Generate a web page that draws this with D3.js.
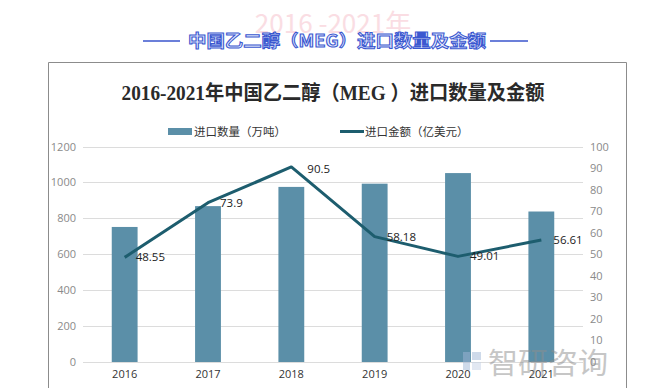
<!DOCTYPE html>
<html><head><meta charset="utf-8">
<script src="https://cdn.jsdelivr.net/npm/d3@7/dist/d3.min.js"></script>
<style>body{margin:0;background:#fff}svg{display:block}</style>
</head><body>
<svg id="c" width="671" height="388"></svg>
<script>
const years = ["2016","2017","2018","2019","2020","2021"];
const volume = [752, 868, 975, 993, 1052, 838];
const amount = [48.55, 73.9, 90.5, 58.18, 49.01, 56.61];
const leftTicks = [0,200,400,600,800,1000,1200];
const rightTicks = [0,10,20,30,40,50,60,70,80,90,100];
const header = "中国乙二醇（MEG）进口数量及金额";
const title = "2016-2021年中国乙二醇（MEG ）进口数量及金额";
const legendNames = ["进口数量（万吨）","进口金额（亿美元）"];

const svg = d3.select("#c");
const cjk = "'Noto Sans CJK SC','Noto Sans',sans-serif";
const num = "'Open Sans','Noto Sans',sans-serif";
const barColor = "#5b8fa8", lineColor = "#1d5d6e";

// faded background text
svg.append("text").attr("x",333).attr("y",33).attr("text-anchor","middle")
  .attr("font-family",cjk).attr("font-size",26).attr("fill","#fadde3").text("2016 -2021年");

// header
svg.append("line").attr("x1",143).attr("x2",180).attr("y1",41).attr("y2",41).attr("stroke","#3a55cc").attr("stroke-width",1.3);
svg.append("line").attr("x1",490).attr("x2",528).attr("y1",41).attr("y2",41).attr("stroke","#3a55cc").attr("stroke-width",1.3);
svg.append("text").attr("x",337).attr("y",47).attr("text-anchor","middle")
  .attr("font-family",cjk).attr("font-weight","bold").attr("font-size",16.5)
  .attr("fill","#e4eafc").attr("stroke","#3b58d0").attr("stroke-width",1)
  .attr("textLength",298).attr("lengthAdjust","spacingAndGlyphs").text(header);

// frame
svg.append("path").attr("d","M48.5,388 V62.5 H626.5 V388").attr("fill","none").attr("stroke","#8c8c8c").attr("stroke-width",1);

// title
svg.append("text").attr("x",333).attr("y",100).attr("text-anchor","middle")
  .attr("font-family","'Liberation Serif','DejaVu Serif','Noto Sans CJK SC',serif")
  .attr("font-size",20).attr("font-weight","bold").attr("fill","#2a2a2a")
  .attr("textLength",423).attr("lengthAdjust","spacingAndGlyphs").text(title);

const x = d3.scaleBand().domain(years).range([83,583]).paddingInner(0.69).paddingOuter(0.345);
const yL = d3.scaleLinear().domain([0,1200]).range([362,146.5]);
const yR = d3.scaleLinear().domain([0,100]).range([362,146.5]);

// grid
svg.append("g").selectAll("line").data(leftTicks).join("line")
  .attr("x1",83).attr("x2",583).attr("y1",d=>Math.round(yL(d))+0.5).attr("y2",d=>Math.round(yL(d))+0.5)
  .attr("stroke","#dcdcdc").attr("stroke-width",1);

// left axis
const gL = svg.append("g").attr("transform","translate(76,0)")
  .call(d3.axisLeft(yL).tickValues(leftTicks).tickFormat(d3.format("d")).tickSize(0).tickPadding(0));
gL.select(".domain").remove();
gL.selectAll("text").attr("font-family",num).attr("font-size",11).attr("fill","#8a8a8a");

// right axis
const gR = svg.append("g").attr("transform","translate(590,0)")
  .call(d3.axisRight(yR).tickValues(rightTicks).tickFormat(d3.format("d")).tickSize(0).tickPadding(0));
gR.select(".domain").remove();
gR.selectAll("text").attr("font-family",num).attr("font-size",11).attr("fill","#8a8a8a");

// bars
svg.append("g").selectAll("rect").data(years).join("rect")
  .attr("x",d=>x(d)).attr("width",x.bandwidth())
  .attr("y",(d,i)=>yL(volume[i])).attr("height",(d,i)=>yL(0)-yL(volume[i]))
  .attr("fill",barColor);

// x axis labels
const gX = svg.append("g").attr("transform","translate(0,370)")
  .call(d3.axisBottom(x).tickSize(0).tickPadding(0));
gX.select(".domain").remove();
gX.selectAll("text").attr("font-family",num).attr("font-size",11).attr("fill","#333");

// line
const cx = d=>x(d)+x.bandwidth()/2;
svg.append("path").datum(years)
  .attr("d",d3.line().x(d=>cx(d)).y((d,i)=>yR(amount[i])))
  .attr("fill","none").attr("stroke",lineColor).attr("stroke-width",3).attr("stroke-linejoin","round");

// data labels
const offs = [[11,0],[12,0],[16,2],[12,0],[12,0],[12,0]];
svg.append("g").selectAll("text").data(years).join("text")
  .attr("x",(d,i)=>cx(d)+offs[i][0]).attr("y",(d,i)=>yR(amount[i])+offs[i][1])
  .attr("dy","0.35em").attr("font-family",num)
  .attr("font-size",11.5).attr("fill","#222").text((d,i)=>amount[i]);

// legend
svg.append("rect").attr("x",168).attr("y",128).attr("width",24).attr("height",7).attr("fill",barColor);
svg.append("text").attr("x",194).attr("y",132).attr("dy","0.35em").attr("font-family",cjk)
  .attr("font-size",11.5).attr("fill","#333").text(legendNames[0]);
svg.append("line").attr("x1",340).attr("x2",364).attr("y1",131.5).attr("y2",131.5).attr("stroke",lineColor).attr("stroke-width",3);
svg.append("text").attr("x",365).attr("y",132).attr("dy","0.35em").attr("font-family",cjk)
  .attr("font-size",11.5).attr("fill","#333").text(legendNames[1]);

// watermark
const wm = svg.append("g").attr("opacity",0.5);
wm.append("rect").attr("x",463).attr("y",352).attr("width",7).attr("height",18).attr("fill","#9fb6d6");
wm.append("rect").attr("x",472).attr("y",352).attr("width",9).attr("height",8).attr("fill","#9fb6d6");
wm.append("rect").attr("x",472).attr("y",362).attr("width",9).attr("height",8).attr("fill","#c6d3e6");
wm.append("text").attr("x",488).attr("y",374).attr("font-family",cjk).attr("font-size",29)
  .attr("fill","#8e8e8e").attr("textLength",120).attr("lengthAdjust","spacingAndGlyphs").text("智研咨询");
</script>
</body></html>
